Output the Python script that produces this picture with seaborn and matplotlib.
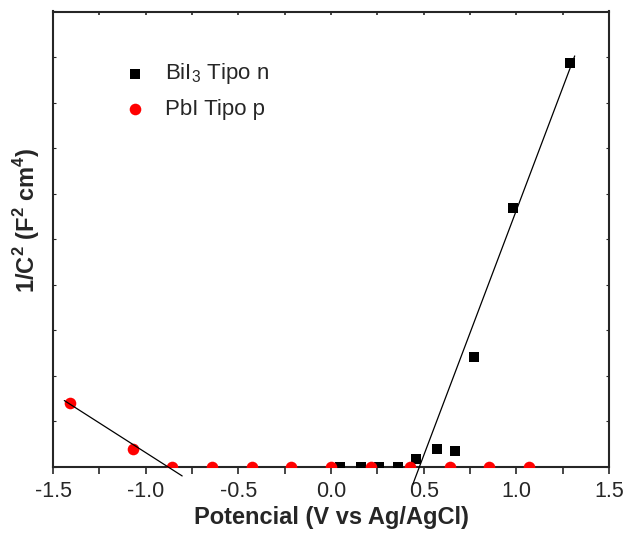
import numpy as np
import pandas as pd
import seaborn as sns
import matplotlib
matplotlib.use("Agg")
import matplotlib.pyplot as plt

# ---- data (y in arbitrary units) ----
n_x = [0.05, 0.16, 0.26, 0.36, 0.46, 0.57, 0.67, 0.77, 0.98, 1.29]
n_y = [0.0, 0.0, 0.0, 0.0, 0.18, 0.40, 0.35, 2.42, 5.69, 8.86]
p_x = [-1.407, -1.067, -0.857, -0.642, -0.426, -0.216, 0.0, 0.216, 0.426, 0.642, 0.852, 1.067]
p_y = [1.41, 0.40, 0.0, 0.0, 0.0, 0.0, 0.0, 0.0, 0.0, 0.0, 0.0, 0.0]
n_fit_idx = [4, 7, 8, 9]
p_fit_idx = [0, 1, 2]
n_fit_range = [0.442, 1.315]
p_fit_range = [-1.439, -0.803]
labels = ["BiI$_3$ Tipo n", "PbI Tipo p"]
xticks = [-1.5, -1.0, -0.5, 0.0, 0.5, 1.0, 1.5]

sns.set_style("ticks")
plt.rcParams["font.family"] = ["Liberation Sans", "DejaVu Sans"]
plt.rcParams["mathtext.fontset"] = "custom"
plt.rcParams["mathtext.rm"] = "Liberation Sans"
plt.rcParams["mathtext.bf"] = "Liberation Sans:bold"
plt.rcParams["axes.unicode_minus"] = False

fig = plt.figure(figsize=(6.26, 5.36), dpi=100)
ax = fig.add_axes([53/626, 1-467/536, (609-53)/626, (467-11.5)/536])

dn = pd.DataFrame({"x": n_x, "y": n_y})
dp = pd.DataFrame({"x": p_x, "y": p_y})
sns.scatterplot(data=dn, x="x", y="y", ax=ax, marker="s", color="black",
                s=55, linewidth=0, label=labels[0], zorder=3)
sns.scatterplot(data=dp, x="x", y="y", ax=ax, marker="o", color="#ff0000",
                s=70, linewidth=0, label=labels[1], zorder=3)

# linear fits
cn = np.polyfit(np.array(n_x)[n_fit_idx], np.array(n_y)[n_fit_idx], 1)
cp = np.polyfit(np.array(p_x)[p_fit_idx], np.array(p_y)[p_fit_idx], 1)
xn = np.array(n_fit_range)
xp = np.array(p_fit_range)
ax.plot(xn, np.polyval(cn, xn), color="black", lw=0.9, clip_on=False, zorder=4)
ax.plot(xp, np.polyval(cp, xp), color="black", lw=0.9, clip_on=False, zorder=4)

ax.set_xlim(-1.5, 1.5)
ax.set_ylim(0, 10)
ax.set_xticks(xticks)
ax.set_xticklabels([f"{v:.1f}" for v in xticks])
ax.set_xticks(np.arange(-1.25, 1.5, 0.5), minor=True)
ax.set_yticks(np.arange(0, 11, 1))
ax.set_yticklabels([])

for s in ax.spines.values():
    s.set_visible(True)
    s.set_linewidth(1.5)

ax.tick_params(axis="x", which="both", direction="out", length=5, width=1.2,
               labelsize=15.5, top=False, pad=5)
ax.tick_params(axis="y", which="both", direction="in", length=2, width=0.8,
               right=True)
ax.tick_params(axis="x", which="both", top=True, labeltop=False)
for t in ax.xaxis.get_major_ticks() + ax.xaxis.get_minor_ticks():
    t.tick2line.set_markersize(2)
    t.tick2line.set_marker(3)

ax.set_xlabel("Potencial (V vs Ag/AgCl)", fontsize=17, fontweight="bold", labelpad=3)
ax.set_ylabel(r"1/C$^{\mathbf{2}}$ (F$^{\mathbf{2}}$ cm$^{\mathbf{4}}$)",
              fontsize=17, fontweight="bold")
ax.yaxis.set_label_coords(-0.02, 0.542)

leg = ax.legend(loc="upper left", bbox_to_anchor=(0.092, 0.91), frameon=False,
                fontsize=16, handletextpad=0.35, labelspacing=0.55,
                markerscale=1.0, borderaxespad=0)

fig.savefig("out.png", dpi=100)
